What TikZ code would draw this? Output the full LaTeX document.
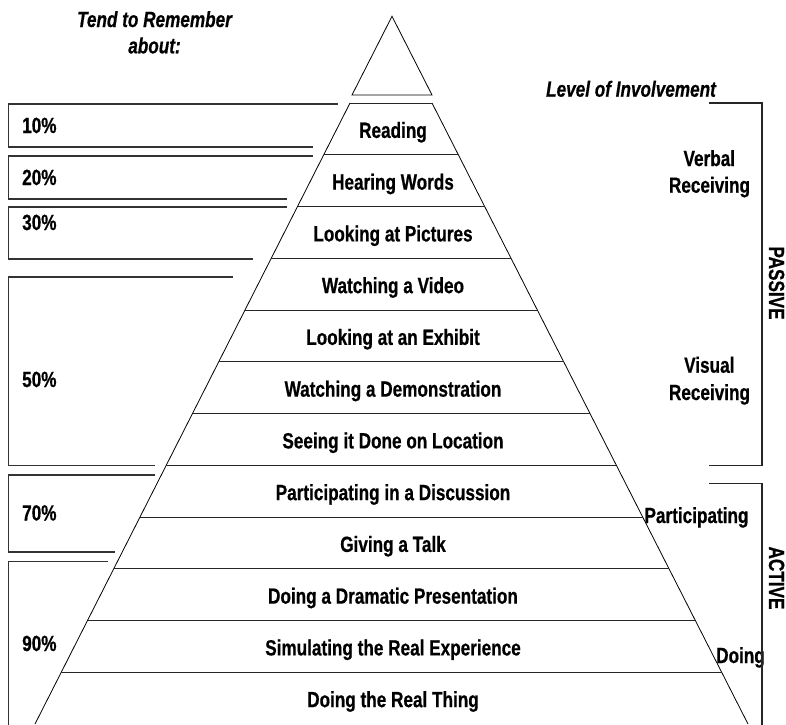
\documentclass[tikz,border=0pt]{standalone}
\usepackage{fontspec}
\setmainfont{Liberation Sans}[FakeStretch=0.78,FakeBold=0.6]
\usetikzlibrary{calc}
\begin{document}
\begin{tikzpicture}[x=1pt,y=-1pt,
  lab/.style={font=\fontsize{22}{27}\selectfont\bfseries, inner sep=0pt, anchor=base},
  ilab/.style={font=\fontsize{22}{27}\selectfont\bfseries\itshape, inner sep=0pt, anchor=base, align=center},
  pyr/.style={draw=black, line width=0.8pt},
  layer/.style={draw=black!85, line width=1pt},
  boxl/.style={draw=black!80, line width=1.2pt},
  brk/.style={draw=black!85, line width=1.2pt}]
\useasboundingbox (0,0) rectangle (786,724);
% top triangle
\draw[pyr] (352,95) -- (392,16.3) -- (432,95) -- cycle;
% pyramid
\coordinate (tl) at (350,103);
\coordinate (bl) at (35,724);
\coordinate (tr) at (432,103);
\coordinate (br) at (748,724);
\draw[pyr] (tl) -- (bl);
\draw[pyr] (tr) -- (br);
\foreach \k in {0,...,11}{
  \draw[layer] ($(tl)!{\k*51.75/621}!(bl)$) -- ($(tr)!{\k*51.75/621}!(br)$);
}
% layer labels
\foreach \t [count=\i from 0] in {Reading,Hearing Words,Looking at Pictures,Watching a Video,Looking at an Exhibit,Watching a Demonstration,Seeing it Done on Location,Participating in a Discussion,Giving a Talk,Doing a Dramatic Presentation,Simulating the Real Experience,Doing the Real Thing}{
  \node[lab] (L\i) at (393,{103+51.75*(\i+0.5)+9}) {\t};
}
% left boxes
\draw[boxl] (338,104) -- (8.3,104) -- (8.3,147) -- (313,147);
\draw[boxl] (313,156) -- (8.3,156) -- (8.3,199) -- (287,199);
\draw[boxl] (287,207) -- (8.3,207) -- (8.3,259) -- (253,259);
\draw[boxl] (233,277) -- (8.3,277) -- (8.3,465.5) -- (155,465.5);
\draw[boxl] (155,475) -- (8.3,475) -- (8.3,552) -- (115,552);
\draw[boxl] (108,561.5) -- (8.3,561.5) -- (8.3,730);
\node[lab,anchor=base west] (p10) at (22,133) {10\%};
\node[lab,anchor=base west] (p20) at (22,185) {20\%};
\node[lab,anchor=base west] (p30) at (22,230) {30\%};
\node[lab,anchor=base west] (p50) at (22,387) {50\%};
\node[lab,anchor=base west] (p70) at (22,520.5) {70\%};
\node[lab,anchor=base west] (p90) at (22,651) {90\%};
% headings
\node[ilab] (tend) at (154.5,27) {Tend to Remember};
\node[ilab] (about) at (154.5,53.3) {about:};
\node[ilab] (level) at (631,96.7) {Level of Involvement};
% right labels
\node[lab] (verbal) at (709.3,166) {Verbal};
\node[lab] (verbalr) at (709.5,192.7) {Receiving};
\node[lab] (visual) at (709.3,372.7) {Visual};
\node[lab] (visualr) at (709.5,400) {Receiving};
\node[lab] (part) at (696.5,523) {Participating};
\node[lab] (doing) at (740.5,663) {Doing};
% brackets
\draw[brk] (709,103) -- (762,103) -- (762,465.7) -- (709,465.7);
\draw[brk] (709,483.3) -- (762,483.3) -- (762,730);
\node[lab,rotate=-90] (passive) at (769,283) {PASSIVE};
\node[lab,rotate=-90] (active) at (769,578) {ACTIVE};
\end{tikzpicture}
\end{document}
